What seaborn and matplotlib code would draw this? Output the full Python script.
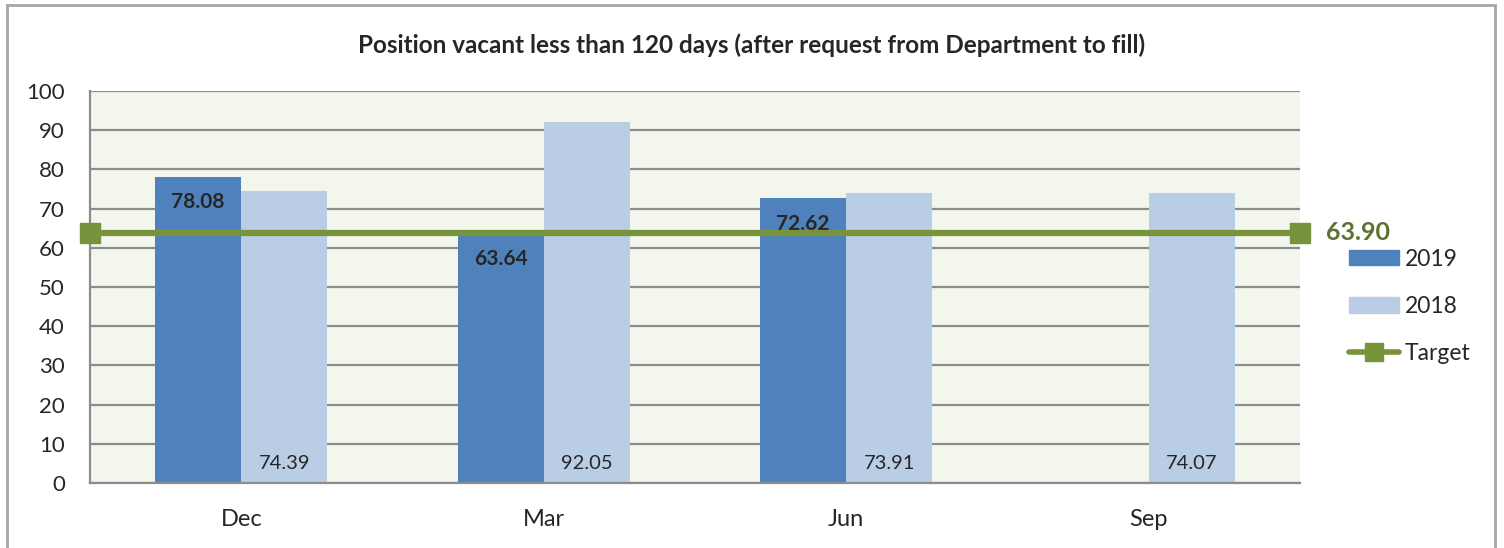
import pandas as pd
import numpy as np
import matplotlib
matplotlib.use("Agg")
import matplotlib.pyplot as plt
import seaborn as sns
from matplotlib.lines import Line2D
from matplotlib.patches import Patch, Rectangle

# data
quarters = ["Dec", "Mar", "Jun", "Sep"]
vals_2019 = [78.08, 63.64, 72.62, np.nan]
vals_2018 = [74.39, 92.05, 73.91, 74.07]
target = 63.90

c2019 = "#4F81BD"
c2018 = "#B9CDE5"
cgreen = "#77933C"

df = pd.DataFrame({
    "quarter": quarters * 2,
    "year": ["2019"] * 4 + ["2018"] * 4,
    "value": vals_2019 + vals_2018,
})

sns.set_style("white")
plt.rcParams["font.family"] = ["Lato", "DejaVu Sans"]

fig = plt.figure(figsize=(15.04, 5.48), dpi=100)
ax = fig.add_axes([90 / 1504, 1 - 483 / 548, 1210 / 1504, 392 / 548])

sns.barplot(data=df, x="quarter", y="value", hue="year", order=quarters,
            hue_order=["2019", "2018"], palette=[c2019, c2018], saturation=1,
            width=0.57, gap=0, ax=ax, legend=False, zorder=2,
            edgecolor="none", linewidth=0)

ax.set_facecolor("#F3F6EC")
ax.set_xlim(-0.5, len(quarters) - 0.5)
ax.set_ylim(0, 100)
ax.set_yticks(range(0, 101, 10))
ax.yaxis.grid(True, color="#8C8C8C", linewidth=1.6, zorder=0)
ax.set_axisbelow(True)
ax.set_xlabel("")
ax.set_ylabel("")
for s in ["top", "right"]:
    ax.spines[s].set_visible(False)
for s in ["left", "bottom"]:
    ax.spines[s].set_color("#8C8C8C")
    ax.spines[s].set_linewidth(1.6)

# category ticks at boundaries
ax.set_xticks(np.arange(-0.5, len(quarters), 1), minor=False)
ax.set_xticklabels([])
ax.set_xticks(range(len(quarters)), minor=True)
ax.set_xticklabels(quarters, minor=True, fontsize=17)
ax.tick_params(axis="x", which="major", length=9, width=1.6, color="#8C8C8C", direction="out")
ax.tick_params(axis="x", which="minor", length=0, pad=19)
ax.tick_params(axis="y", length=6, width=1.6, color="#8C8C8C", labelsize=16, pad=12)

# data labels
bars19, bars18 = ax.containers[0], ax.containers[1]
for bar, v in zip(bars19, vals_2019):
    if np.isnan(v):
        continue
    ax.text(bar.get_x() + bar.get_width() / 2, v - 6.5, f"{v:.2f}",
            ha="center", va="center", fontsize=15, fontweight="bold", zorder=3)
for bar, v in zip(bars18, vals_2018):
    ax.text(bar.get_x() + bar.get_width() / 2, 5, f"{v:.2f}",
            ha="center", va="center", fontsize=14.5, zorder=3)

# target line across the plot
xs = list(ax.get_xlim())
ax.plot(xs, [target] * 2, color=cgreen, linewidth=4.5, marker="s",
        markersize=14, zorder=5, clip_on=False)
ax.annotate(f"{target:.2f}", (xs[1], target), xytext=(19, 0), textcoords="offset points",
            color="#5A7330", fontsize=18, fontweight="bold", ha="left", va="center")

handles = [Patch(color=c2019, label="2019"), Patch(color=c2018, label="2018"),
           Line2D([0], [0], color=cgreen, linewidth=4, marker="s", markersize=13, label="Target")]
fig.legend(handles=handles, loc="upper left", bbox_to_anchor=(1328 / 1504, 1 - 228 / 548),
           frameon=False, fontsize=16.5, handlelength=2.2, handleheight=0.65,
           labelspacing=1.15, handletextpad=0.25)

fig.text(752 / 1504, 1 - 45 / 548,
         "Position vacant less than 120 days (after request from Department to fill)",
         ha="center", va="center", fontsize=17.5, fontweight="bold")

fig.patches.append(Rectangle((7 / 1504, -0.01), 1488 / 1504, 1 - 5 / 548 + 0.01,
                             transform=fig.transFigure, fill=False,
                             edgecolor="#A6A6A6", linewidth=2))

fig.savefig("out.png", dpi=100)
